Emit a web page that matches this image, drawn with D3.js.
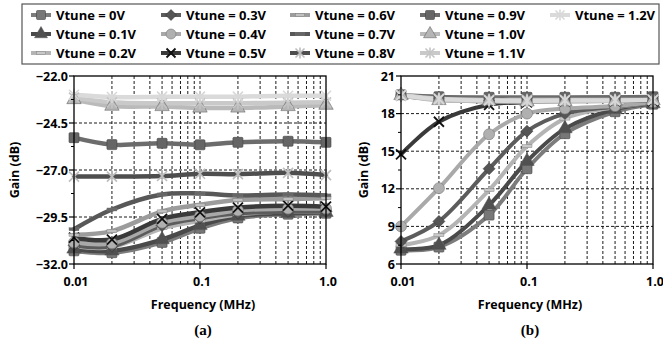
<!DOCTYPE html>
<html>
<head>
<meta charset="utf-8">
<script src="https://cdn.jsdelivr.net/npm/d3@7"></script>
<style>
  body { margin: 0; background: #fff; }
  svg { display: block; font-family: "Open Sans", Lato, sans-serif; font-weight: bold; }
</style>
</head>
<body>
<svg id="chart" width="663" height="344"></svg>
<script>
// frequency points (MHz)
const freqs = [0.01, 0.02, 0.05, 0.1, 0.2, 0.5, 1.0];
const seriesNames = ["Vtune = 0V", "Vtune = 0.1V", "Vtune = 0.2V", "Vtune = 0.3V", "Vtune = 0.4V",
  "Vtune = 0.5V", "Vtune = 0.6V", "Vtune = 0.7V", "Vtune = 0.8V", "Vtune = 0.9V",
  "Vtune = 1.0V", "Vtune = 1.1V", "Vtune = 1.2V"];

// panel (a) gain, dB, one row per Vtune
const gainA = [
  [-31.3, -31.4, -30.85, -30.1, -29.55, -29.35, -29.3],
  [-31.2, -31.3, -30.7, -29.95, -29.45, -29.3, -29.25],
  [-31.05, -31.1, -30.1, -29.7, -29.35, -29.2, -29.2],
  [-31.0, -31.05, -29.95, -29.55, -29.3, -29.2, -29.2],
  [-30.85, -30.9, -29.8, -29.45, -29.15, -29.05, -29.05],
  [-30.6, -30.7, -29.6, -29.25, -29.0, -28.9, -28.95],
  [-30.45, -30.25, -29.2, -28.85, -28.6, -28.55, -28.5],
  [-30.15, -29.1, -28.3, -28.25, -28.35, -28.3, -28.35],
  [-27.35, -27.35, -27.32, -27.2, -27.22, -27.15, -27.27],
  [-25.28, -25.65, -25.58, -25.66, -25.53, -25.47, -25.53],
  [-23.25, -23.6, -23.62, -23.7, -23.7, -23.62, -23.55],
  [-23.15, -23.4, -23.45, -23.45, -23.45, -23.42, -23.4],
  [-23.0, -23.12, -23.1, -23.1, -23.1, -23.05, -23.05]
];

// panel (b) gain, dB, one row per Vtune
const gainB = [
  [7.1, 7.35, 9.9, 13.6, 16.4, 18.15, 18.75],
  [7.2, 7.5, 10.7, 14.2, 16.8, 18.35, 18.8],
  [7.5, 8.3, 11.9, 15.4, 17.6, 18.5, 18.85],
  [7.8, 9.4, 13.6, 16.6, 18.0, 18.55, 18.85],
  [9.0, 12.05, 16.35, 18.0, 18.4, 18.6, 18.9],
  [14.75, 17.35, 18.7, 18.9, 19.0, 19.0, 19.0],
  [19.4, 19.1, 18.95, 18.95, 19.0, 19.05, 19.1],
  [19.45, 19.3, 19.25, 19.25, 19.25, 19.3, 19.3],
  [19.4, 19.15, 19.05, 19.05, 19.05, 19.1, 19.15],
  [19.5, 19.35, 19.3, 19.3, 19.3, 19.3, 19.35],
  [19.45, 19.05, 19.0, 18.95, 18.95, 19.0, 19.05],
  [19.5, 19.2, 19.1, 19.1, 19.1, 19.1, 19.1],
  [19.45, 19.15, 19.05, 19.0, 19.05, 19.05, 19.1]
];

const xTicks = [0.01, 0.1, 1.0];
const xTickLabels = ["0.01", "0.1", "1.0"];
const yTicksA = [-32, -29.5, -27, -24.5, -22];
const yTicksB = [6, 9, 12, 15, 18, 21];

// look of each series: marker shape, line colour, marker fill
const shapes = ["square", "triangle", "dash", "diamond", "circle", "x", "dash", "dash", "star", "square", "triangle", "star", "star"];
const lineColors = ["#7c7c7c", "#4a4a4a", "#b4b4b4", "#5c5c5c", "#a9a9a9", "#3a3a3a", "#9c9c9c", "#585858", "#4e4e4e", "#6c6c6c", "#bababa", "#c9c9c9", "#dadada"];
const markerFills = ["#777", "#505050", "#c8c8c8", "#555", "#b0b0b0", "#111", "#c0c0c0", "#666", "#bdbdbd", "#666", "#b5b5b5", "#c4c4c4", "#d8d8d8"];

const svg = d3.select("#chart");
const plotTop = 76, plotBottom = 264;

function drawMarker(g, shape, x, y, fill, size) {
  const s = size;
  if (shape === "square") {
    g.append("rect").attr("x", x - s / 2).attr("y", y - s / 2).attr("width", s).attr("height", s)
      .attr("rx", 1).attr("fill", fill).attr("stroke", "#444").attr("stroke-width", 0.6);
  } else if (shape === "triangle") {
    g.append("path").attr("d", d3.symbol(d3.symbolTriangle, s * s * 0.9)())
      .attr("transform", `translate(${x},${y})`).attr("fill", fill).attr("stroke", "#555").attr("stroke-width", 0.5);
  } else if (shape === "diamond") {
    g.append("path").attr("d", `M0,${-s / 2 - 1}L${s / 2 + 1},0L0,${s / 2 + 1}L${-s / 2 - 1},0Z`)
      .attr("transform", `translate(${x},${y})`).attr("fill", fill).attr("stroke", "#333").attr("stroke-width", 0.5);
  } else if (shape === "circle") {
    g.append("circle").attr("cx", x).attr("cy", y).attr("r", s / 2 + 0.5)
      .attr("fill", fill).attr("stroke", "#777").attr("stroke-width", 0.6);
  } else if (shape === "dash") {
    g.append("rect").attr("x", x - s / 2).attr("y", y - 1.5).attr("width", s).attr("height", 3)
      .attr("fill", fill).attr("stroke", "#777").attr("stroke-width", 0.4);
  } else if (shape === "x") {
    const h = s / 2;
    g.append("path").attr("d", `M${-h},${-h}L${h},${h}M${-h},${h}L${h},${-h}`)
      .attr("transform", `translate(${x},${y})`).attr("stroke", fill).attr("stroke-width", 1.8);
  } else if (shape === "star") {
    const h = s / 2;
    g.append("path").attr("d", `M${-h},${-h}L${h},${h}M${-h},${h}L${h},${-h}M0,${-h - 1}L0,${h + 1}`)
      .attr("transform", `translate(${x},${y})`).attr("stroke", fill).attr("stroke-width", 1.6);
  }
}

function panel(x0, x1, yDomain, yTicks, data, tickFmt, gainLabelX, caption, lineW) {
  const x = d3.scaleLog().domain([0.01, 1]).range([x0, x1]);
  const y = d3.scaleLinear().domain(yDomain).range([plotBottom, plotTop]);
  const g = svg.append("g");

  // vertical dashed grid at every decade minor
  const vGrid = [];
  [0.01, 0.1].forEach(d => { for (let k = 1; k <= 9; k++) vGrid.push(d * k); });
  g.selectAll(".vg").data(vGrid.filter(v => v > 0.0101)).enter().append("line")
    .attr("x1", d => x(d)).attr("x2", d => x(d)).attr("y1", plotTop).attr("y2", plotBottom)
    .attr("stroke", "#000").attr("stroke-width", 0.9).attr("stroke-dasharray", "3,2");
  g.selectAll(".hg").data(yTicks.slice(1, -1)).enter().append("line")
    .attr("x1", x0).attr("x2", x1).attr("y1", d => y(d)).attr("y2", d => y(d))
    .attr("stroke", "#000").attr("stroke-width", 0.9).attr("stroke-dasharray", "3,2");

  // series lines
  const line = d3.line().x((d, i) => x(freqs[i])).y(d => y(d)).curve(d3.curveCatmullRom.alpha(0.5));
  data.forEach((vals, si) => {
    g.append("path").attr("d", line(vals)).attr("fill", "none")
      .attr("stroke", lineColors[si]).attr("stroke-width", lineW).attr("stroke-linecap", "round");
  });
  data.forEach((vals, si) => {
    vals.forEach((v, i) => drawMarker(g, shapes[si], x(freqs[i]), y(v), markerFills[si], 10));
  });

  // frame
  g.append("rect").attr("x", x0).attr("y", plotTop).attr("width", x1 - x0).attr("height", plotBottom - plotTop)
    .attr("fill", "none").attr("stroke", "#000").attr("stroke-width", 1.3);

  // y axis ticks: major + one minor between
  const step = yTicks[1] - yTicks[0];
  yTicks.forEach((t, i) => {
    g.append("line").attr("x1", x0 - 5).attr("x2", x0).attr("y1", y(t)).attr("y2", y(t)).attr("stroke", "#000").attr("stroke-width", 1.2);
    if (i < yTicks.length - 1) {
      g.append("line").attr("x1", x0 - 3).attr("x2", x0).attr("y1", y(t + step / 2)).attr("y2", y(t + step / 2)).attr("stroke", "#000");
    }
    g.append("text").attr("x", x0 - 6).attr("y", y(t) + 4.5).attr("text-anchor", "end")
      .attr("font-size", 12.5).text(tickFmt(t));
  });
  // x axis labels
  xTicks.forEach((t, i) => {
    g.append("line").attr("x1", x(t)).attr("x2", x(t)).attr("y1", plotBottom).attr("y2", plotBottom + 5).attr("stroke", "#000").attr("stroke-width", 1.2);
    g.append("text").attr("x", x(t) + 2).attr("y", 286).attr("text-anchor", "middle")
      .attr("font-size", 12.5).text(xTickLabels[i]);
  });
  g.append("text").attr("x", (x0 + x1) / 2 + 3).attr("y", 309).attr("text-anchor", "middle")
    .attr("font-size", 12.5).text("Frequency (MHz)");
  g.append("text").attr("transform", `translate(${gainLabelX},${(plotTop + plotBottom) / 2}) rotate(-90)`)
    .attr("text-anchor", "middle").attr("font-size", 12.5).text("Gain (dB)");
  g.append("text").attr("x", (x0 + x1) / 2 + 3).attr("y", 335).attr("text-anchor", "middle")
    .attr("font-family", "'Liberation Serif', serif").attr("font-size", 15).text(caption);
}

panel(74, 326, [-32, -22], yTicksA, gainA, d3.format(".1f"), 19, "(a)", 4.5);
panel(401, 653, [6, 21], yTicksB, gainB, d3.format("d"), 368, "(b)", 4);

// legend
const legend = svg.append("g");
legend.append("rect").attr("x", 22).attr("y", 4).attr("width", 637).attr("height", 60)
  .attr("fill", "#fff").attr("stroke", "#555").attr("stroke-width", 1.2);
const colX = [56, 186, 315, 445, 575];
const rowY = [15, 34, 53];
const order = [[0, 3, 6, 9, 12], [1, 4, 7, 10], [2, 5, 8, 11]];
order.forEach((row, r) => {
  row.forEach((si, c) => {
    const tx = colX[c], ty = rowY[r];
    legend.append("line").attr("x1", tx - 25).attr("x2", tx - 5).attr("y1", ty).attr("y2", ty)
      .attr("stroke", lineColors[si]).attr("stroke-width", 4);
    drawMarker(legend, shapes[si], tx - 15, ty, markerFills[si], 9);
    legend.append("text").attr("x", tx).attr("y", ty + 5).attr("font-size", 13).text(seriesNames[si]);
  });
});
</script>
</body>
</html>
